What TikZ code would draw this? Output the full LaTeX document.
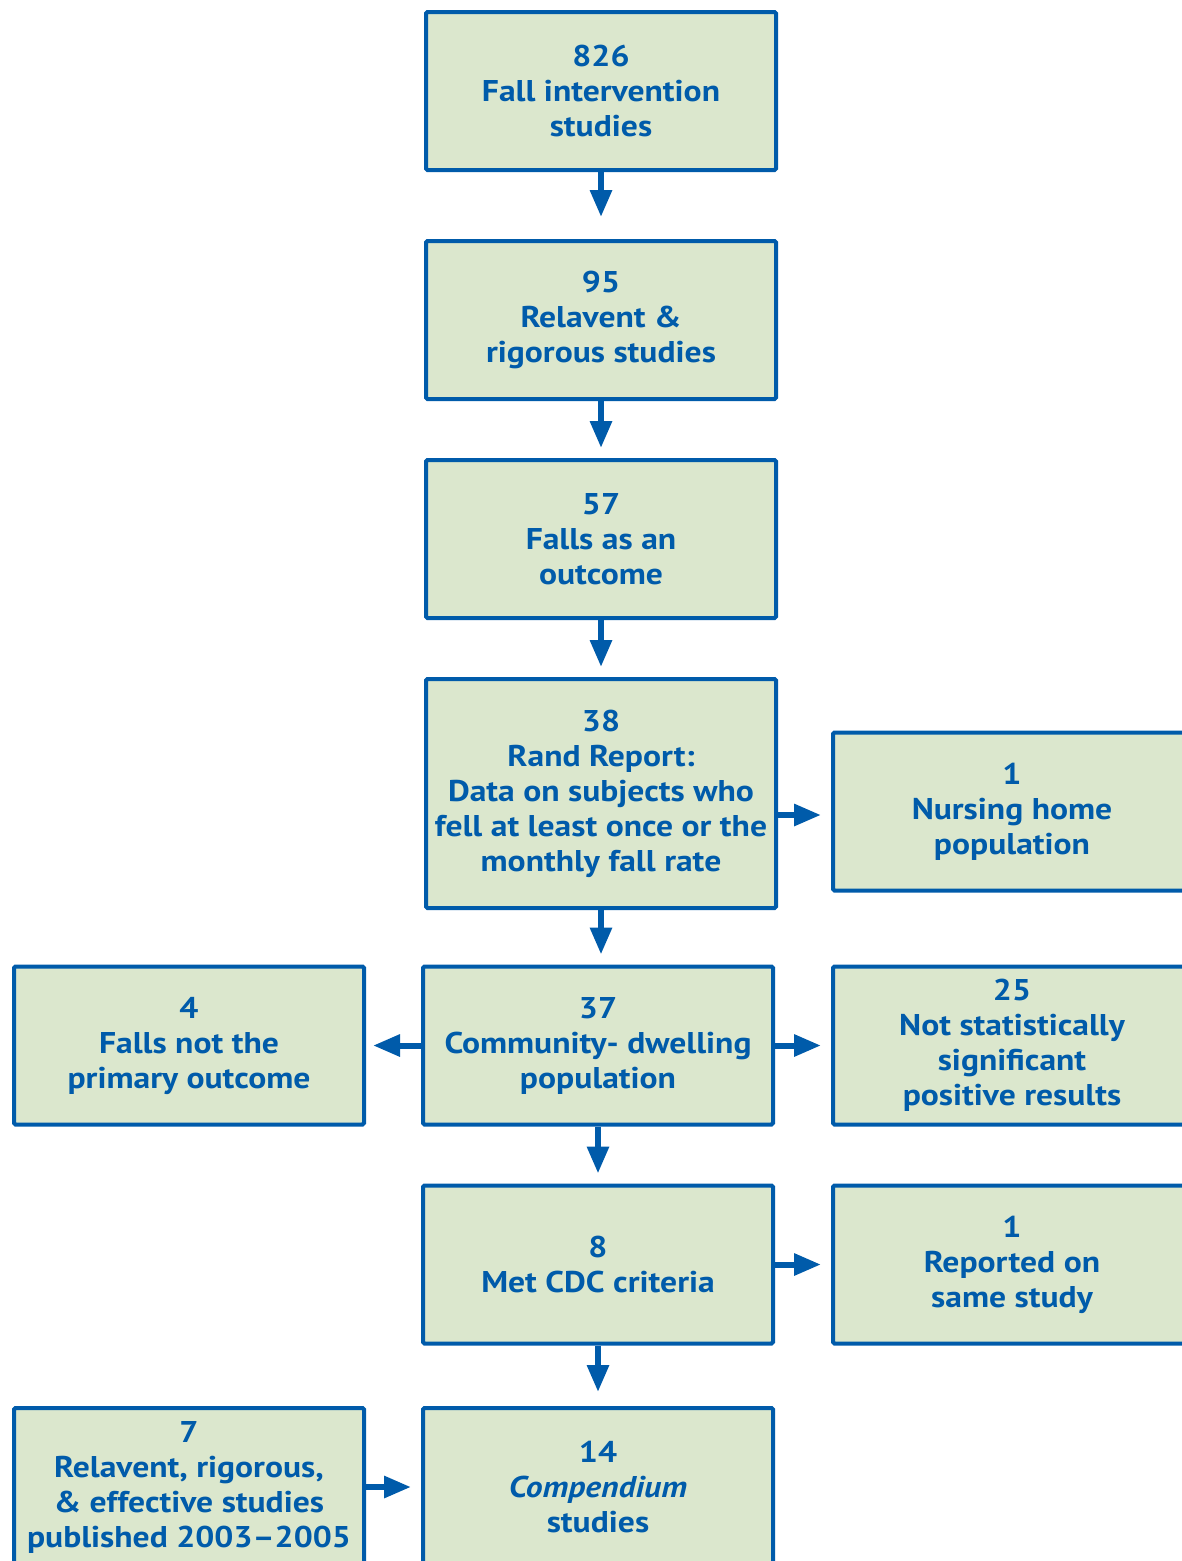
\documentclass[tikz,border=0pt]{standalone}
\usepackage{fontspec}
\setmainfont{PT Sans}[FakeStretch=1.12]
\usetikzlibrary{arrows.meta}
\definecolor{cblue}{HTML}{005BAA}
\definecolor{cfill}{HTML}{DBE7CD}
\begin{document}
\begin{tikzpicture}[x=1pt,y=-1pt,
  box/.style={draw=cblue,fill=cfill,line width=4pt,rounded corners=1.5pt,
    text=cblue,align=center,inner sep=0pt,
    font=\fontsize{30}{35}\selectfont\bfseries,
    minimum width=350pt,minimum height=158pt},
  arr/.style={draw=cblue,line width=6pt,-{Triangle[length=27pt,width=21pt]},shorten >=10pt}]
\useasboundingbox (0,0) rectangle (1182,1561);
\clip (0,0) rectangle (1182,1561);
\node[box] (b1) at (601,91) {826\\Fall intervention\\studies};
\node[box] (b2) at (601,320) {95\\Relavent \&\\rigorous studies};
\node[box] (b3) at (601,539) {57\\Falls as an\\outcome};
\node[box,minimum height=229pt] (b4) at (601,793.5) {38\\Rand Report:\\Data on subjects who\\fell at least once or the\\monthly fall rate};
\node[box,minimum width=358pt] (n1) at (1012,811.5) {1\\Nursing home\\population};
\node[box] (b5) at (598,1045.5) {37\\Community- dwelling\\population};
\node[box] (l4) at (189,1045.5) {4\\Falls not the\\primary outcome};
\node[box,minimum width=358pt] (r25) at (1012,1045.5) {25\\Not statistically\\significant\\positive results};
\node[box] (b6) at (598,1264.5) {8\\Met CDC criteria};
\node[box,minimum width=358pt] (r1) at (1012,1264.5) {1\\Reported on\\same study};
\node[box] (b7) at (598,1487) {14\\\textit{Compendium}\\studies};
\node[box] (l7) at (189,1487) {7\\Relavent, rigorous,\\\& effective studies\\published 2003--2005};
\draw[arr,shorten >=22pt] (b1.south) -- (b2.north);
\draw[arr] (b2.south) -- (b3.north);
\draw[arr] (b3.south) -- (b4.north);
\draw[arr] (b4.south) -- (b4.south |- b5.north);
\draw[arr] (b5.south) -- (b5.south |- b6.north);
\draw[arr,shorten >=14pt] (b6.south) -- (b6.south |- b7.north);
\draw[arr] (b4.east |- 0,815) -- (n1.west |- 0,815);
\draw[arr,shorten >=7pt] (b5.west) -- (l4.east);
\draw[arr] (b5.east) -- (r25.west);
\draw[arr] (b6.east) -- (r1.west);
\draw[arr] (l7.east) -- (b7.west);
\end{tikzpicture}
\end{document}
